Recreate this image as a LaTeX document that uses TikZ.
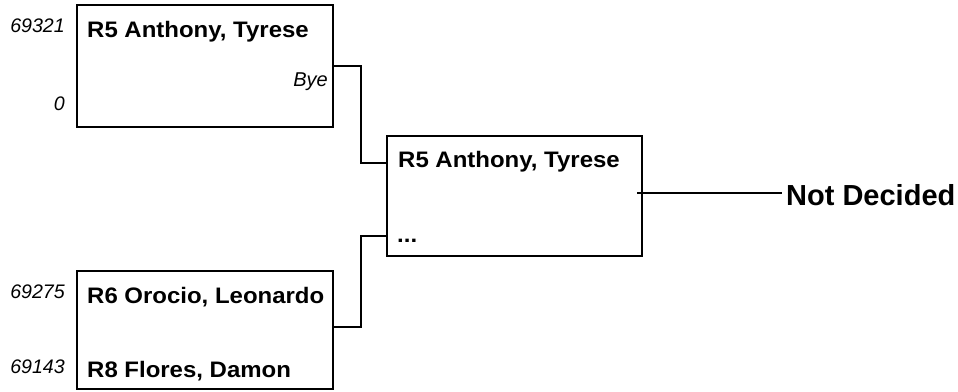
\documentclass[tikz,border=0pt]{standalone}
\usepackage{fontspec}
\setmainfont{Liberation Sans}
\newfontfamily\namefont[FakeStretch=1.07]{Liberation Sans}
\begin{document}
\begin{tikzpicture}[x=1pt,y=-1pt,
  box/.style={draw=black,line width=1.7pt,fill=white},
  conn/.style={draw=black,line width=1.3pt},
  nm/.style={anchor=base west,inner sep=0pt,font=\namefont\bfseries\fontsize{22.4}{26}\selectfont},
  seed/.style={anchor=base east,inner sep=0pt,font=\itshape\fontsize{19.6}{23}\selectfont},
  fin/.style={anchor=base west,inner sep=0pt,font=\bfseries\fontsize{29}{34}\selectfont}]
\useasboundingbox (0,0) rectangle (958,391);
% boxes
\path[box] (77,5) rectangle (333,127);
\node[inner sep=0pt,minimum width=256pt,minimum height=122pt] (b1) at (205,66) {};
\path[box] (77,271) rectangle (333,389);
\node[inner sep=0pt,minimum width=256pt,minimum height=118pt] (b2) at (205,330) {};
\path[box] (387,136) rectangle (642,256);
\node[inner sep=0pt,minimum width=255pt,minimum height=120pt] (b3) at (514.5,196) {};
% texts box 1
\node[seed] (s1) at (65,32) {69321};
\node[nm] (n1) at (87,37) {R5 Anthony, Tyrese};
\node[anchor=base east,inner sep=0pt,font=\itshape\fontsize{20}{23}\selectfont] (bye) at (328,86) {Bye};
\node[seed] (s0) at (65,110) {0};
% texts box 2
\node[seed] (s2) at (65,298) {69275};
\node[nm] (n2) at (87,303) {R6 Orocio, Leonardo};
\node[seed] (s3) at (65,373) {69143};
\node[nm] (n3) at (87,377) {R8 Flores, Damon};
% texts box 3
\node[nm] (n4) at (398,167) {R5 Anthony, Tyrese};
\node[nm] (dots) at (397,242) {...};
% final
\node[fin] (nd) at (786,205) {Not Decided};
\coordinate (o1) at (333,66);
\coordinate (o2) at (333,327);
\coordinate (i1) at (387,163);
\coordinate (i2) at (387,236);
\coordinate (o3) at (637,193);
\coordinate (e3) at (782,193);
% connectors
\draw[conn] (o1) -- (361,66) |- (i1);
\draw[conn] (o2) -- (361,327) |- (i2);
\draw[conn] (o3) -- (e3);
\end{tikzpicture}
\end{document}
